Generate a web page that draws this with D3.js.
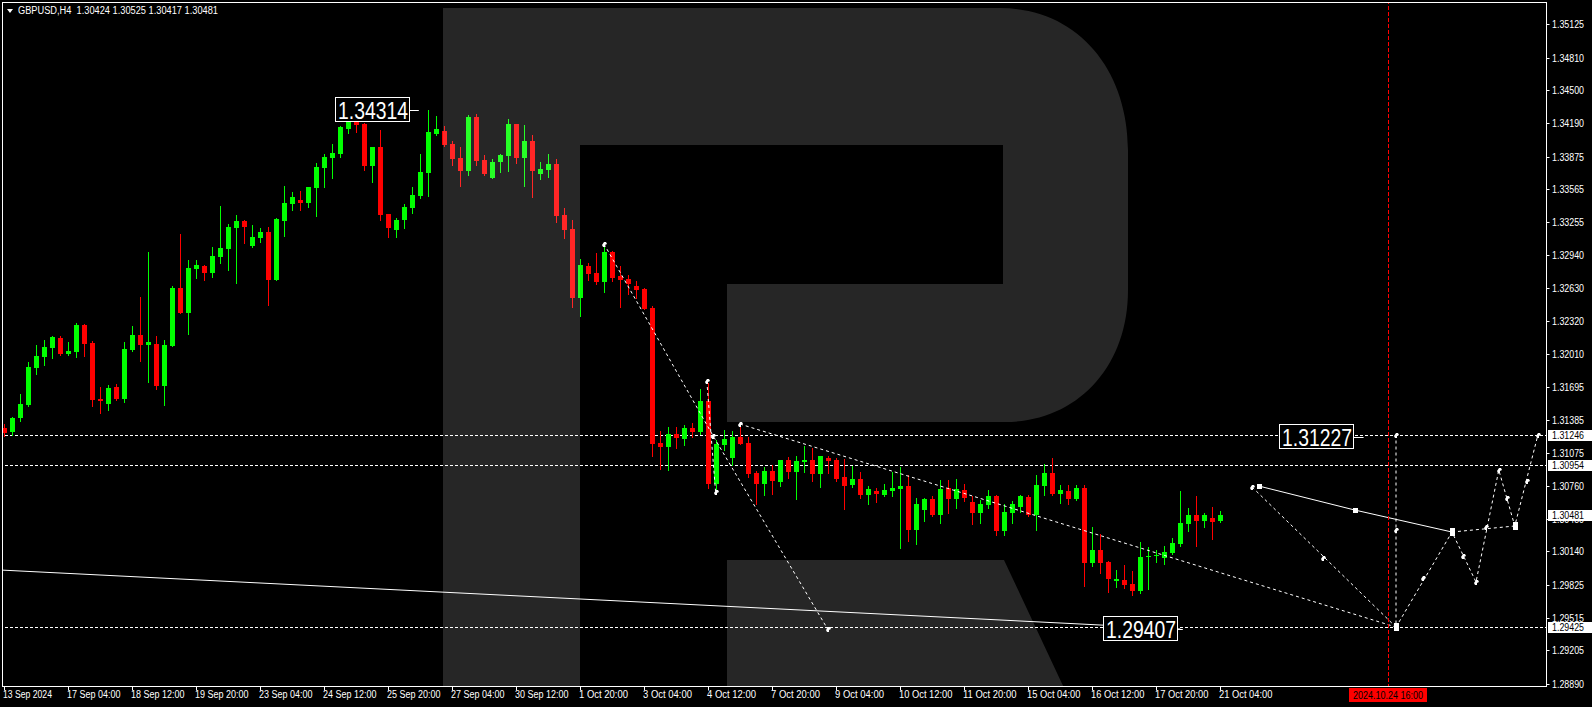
<!DOCTYPE html>
<html><head><meta charset="utf-8">
<script src="https://cdn.jsdelivr.net/npm/d3@7"></script>
<style>body{margin:0;background:#000;overflow:hidden}svg{display:block}</style>
</head><body><svg id="c" width="1592" height="707"></svg>
<script>
// ---------- DATA ----------
const opens = [1.31307,1.31269,1.31402,1.31525,1.31875,1.31979,1.32065,1.32158,1.32007,1.32026,
1.32282,1.32111,1.31581,1.31534,1.31695,1.31581,1.32045,1.32187,1.32093,1.32102,
1.31704,1.32083,1.32631,1.32395,1.32812,1.32840,1.32774,1.32925,1.33001,1.33199,
1.33265,1.33029,1.33105,1.33161,1.32708,1.33265,1.33426,1.33464,1.33436,1.33577,
1.33766,1.33861,1.33898,1.34135,1.34238,1.34182,1.33785,1.33965,1.33331,1.33180,
1.33275,1.33388,1.33501,1.33719,1.34088,1.34116,1.33993,1.33861,1.33738,1.34248,
1.33842,1.33672,1.33823,1.33880,1.34182,1.33861,1.34022,1.33710,1.33747,1.33804,
1.33322,1.33189,1.32537,1.32840,1.32774,1.32688,1.32972,1.32745,1.32717,1.32650,
1.32622,1.32442,1.31166,1.31128,1.31251,1.31203,1.31307,1.31269,1.31563,1.30778,
1.31147,1.31024,1.31222,1.31166,1.30882,1.30778,1.30901,1.30797,1.31005,1.30891,
1.30986,1.31005,1.30872,1.31024,1.31005,1.30844,1.30768,1.30825,1.30674,1.30712,
1.30674,1.30712,1.30731,1.30759,1.30343,1.30532,1.30636,1.30485,1.30740,1.30636,
1.30721,1.30608,1.30504,1.30580,1.30664,1.30334,1.30504,1.30561,1.30655,1.30485,
1.30759,1.30882,1.30683,1.30712,1.30636,1.30740,1.30031,1.30154,1.30040,1.29860,
1.29870,1.29832,1.29766,1.30088,1.30097,1.30078,1.30126,1.30211,1.30400,1.30485,
1.30428,1.30456,1.30424];
const highs = [1.31345,1.31411,1.31629,1.31932,1.32093,1.32140,1.32177,1.32177,1.32121,1.32301,
1.32292,1.32130,1.31695,1.31714,1.31723,1.32121,1.32273,1.32547,1.32972,1.32177,
1.32140,1.32650,1.33142,1.32897,1.32897,1.32850,1.33020,1.33407,1.33237,1.33322,
1.33275,1.33227,1.33199,1.33208,1.33294,1.33595,1.33539,1.33548,1.33586,1.33814,
1.33898,1.33993,1.34163,1.34285,1.34276,1.34191,1.33965,1.34125,1.33331,1.33294,
1.33426,1.33586,1.33898,1.34314,1.34257,1.34163,1.34022,1.33965,1.34267,1.34276,
1.33889,1.33851,1.33898,1.34229,1.34182,1.34172,1.34078,1.33823,1.33898,1.33851,
1.33388,1.33275,1.32906,1.32869,1.32963,1.33048,1.32982,1.32840,1.32755,1.32698,
1.32631,1.32461,1.31279,1.31317,1.31317,1.31336,1.31355,1.31676,1.31733,1.31194,
1.31288,1.31279,1.31326,1.31222,1.30901,1.30939,1.30958,1.31005,1.31033,1.31043,
1.31137,1.31118,1.31043,1.31043,1.31024,1.31014,1.30948,1.30891,1.30759,1.30740,
1.30778,1.30891,1.30939,1.30863,1.30645,1.30645,1.30664,1.30816,1.30816,1.30825,
1.30778,1.30664,1.30627,1.30721,1.30674,1.30589,1.30617,1.30674,1.30674,1.30863,
1.30967,1.31024,1.30768,1.30768,1.30768,1.30768,1.30371,1.30305,1.30050,1.29965,
1.30012,1.29955,1.30230,1.30182,1.30154,1.30192,1.30267,1.30712,1.30551,1.30664,
1.30504,1.30561,1.30525];
const lows = [1.31231,1.31241,1.31374,1.31515,1.31818,1.31904,1.31970,1.31998,1.31998,1.31979,
1.31988,1.31515,1.31449,1.31477,1.31572,1.31553,1.32036,1.31942,1.31742,1.31676,
1.31525,1.32083,1.32395,1.32196,1.32727,1.32708,1.32736,1.32869,1.32802,1.32678,
1.33058,1.33020,1.33067,1.32471,1.32708,1.33124,1.33369,1.33369,1.33398,1.33313,
1.33586,1.33672,1.33870,1.34097,1.34107,1.33747,1.33634,1.33275,1.33114,1.33114,
1.33199,1.33341,1.33483,1.33501,1.34078,1.33974,1.33795,1.33595,1.33700,1.33795,
1.33700,1.33672,1.33728,1.33738,1.33814,1.33595,1.33492,1.33662,1.33681,1.33256,
1.33105,1.32452,1.32367,1.32708,1.32669,1.32594,1.32698,1.32452,1.32575,1.32537,
1.32433,1.31043,1.30920,1.30910,1.31118,1.31147,1.31222,1.31251,1.30740,1.30721,
1.31099,1.30958,1.31156,1.30844,1.30589,1.30674,1.30683,1.30759,1.30835,1.30636,
1.30891,1.30806,1.30750,1.30882,1.30806,1.30541,1.30750,1.30645,1.30589,1.30608,
1.30664,1.30664,1.30173,1.30239,1.30211,1.30428,1.30475,1.30409,1.30504,1.30551,
1.30617,1.30400,1.30409,1.30551,1.30296,1.30296,1.30409,1.30513,1.30475,1.30343,
1.30674,1.30674,1.30598,1.30589,1.30627,1.29813,1.30003,1.29936,1.29756,1.29804,
1.29794,1.29728,1.29747,1.29785,1.30040,1.30021,1.30116,1.30192,1.30334,1.30192,
1.30371,1.30258,1.30417];
const closes = [1.31260,1.31402,1.31534,1.31885,1.31988,1.32074,1.32168,1.32007,1.32036,1.32282,
1.32102,1.31572,1.31563,1.31686,1.31581,1.32055,1.32187,1.32093,1.32121,1.31704,
1.32093,1.32631,1.32395,1.32821,1.32850,1.32774,1.32934,1.33010,1.33208,1.33265,
1.33208,1.33114,1.33161,1.32708,1.33284,1.33436,1.33492,1.33436,1.33586,1.33776,
1.33870,1.33908,1.34154,1.34238,1.34172,1.33785,1.33965,1.33322,1.33199,1.33275,
1.33398,1.33511,1.33728,1.34107,1.34135,1.33984,1.33851,1.33738,1.34248,1.33832,
1.33710,1.33823,1.33889,1.34182,1.33861,1.34022,1.33738,1.33757,1.33804,1.33313,
1.33180,1.32537,1.32850,1.32764,1.32688,1.32972,1.32727,1.32708,1.32669,1.32612,
1.32433,1.31156,1.31128,1.31251,1.31213,1.31307,1.31269,1.31563,1.30778,1.31156,
1.31203,1.31222,1.31156,1.30872,1.30778,1.30901,1.30806,1.31005,1.30891,1.30996,
1.31005,1.30872,1.31043,1.30996,1.30825,1.30759,1.30825,1.30674,1.30731,1.30683,
1.30721,1.30740,1.30759,1.30343,1.30589,1.30636,1.30485,1.30731,1.30636,1.30731,
1.30645,1.30504,1.30589,1.30664,1.30334,1.30513,1.30589,1.30664,1.30485,1.30768,
1.30882,1.30683,1.30721,1.30636,1.30740,1.30031,1.30154,1.30031,1.29879,1.29879,
1.29823,1.29766,1.30088,1.30097,1.30107,1.30135,1.30220,1.30409,1.30485,1.30428,
1.30485,1.30418,1.30481];

const timeLabels = ["13 Sep 2024","17 Sep 04:00","18 Sep 12:00","19 Sep 20:00","23 Sep 04:00","24 Sep 12:00",
"25 Sep 20:00","27 Sep 04:00","30 Sep 12:00","1 Oct 20:00","3 Oct 04:00","4 Oct 12:00","7 Oct 20:00",
"9 Oct 04:00","10 Oct 12:00","11 Oct 20:00","15 Oct 04:00","16 Oct 12:00","17 Oct 20:00","21 Oct 04:00"];
const barsPerLabel = 8;
const priceTicks = [1.35125,1.34810,1.34500,1.34190,1.33875,1.33565,1.33255,1.32940,1.32630,1.32320,
1.32010,1.31695,1.31385,1.31075,1.30760,1.30450,1.30140,1.29825,1.29515,1.29205,1.28890];
const levelLines = [1.31246, 1.30954, 1.29425];
const axisTags = [1.31246, 1.30954, 1.30481, 1.29425];
const title = "GBPUSD,H4  1.30424 1.30525 1.30417 1.30481";
const markerBar = 173, markerText = "2024.10.24 16:00";

// forecast drawings: [barIndex, price]
const solidLines = [
  [[-0.5, 1.29965], [147.1, 1.29407]],
  [[156.9, 1.30759], [168.9, 1.30532], [181.05, 1.30324]]
];
const dashedLines = [
  [[75.05, 1.33048], [88.7, 1.31232], [103.0, 1.29407]],
  [[87.9, 1.31752], [89.0, 1.30702]],
  [[92.05, 1.31345], [174.05, 1.29425]],
  [[156.05, 1.30750], [174.05, 1.29425]],
  [[174.05, 1.31246], [174.05, 1.29425]],
  [[174.05, 1.29425], [181.05, 1.30324], [184.05, 1.29851], [186.9, 1.30910], [188.9, 1.30381], [191.8, 1.31246]],
  [[181.05, 1.30324], [188.9, 1.30381]]
];
const markers = [[75.05,1.33048],[87.9,1.31752],[88.7,1.31232],[89.05,1.30702],[92.05,1.31345],[103.0,1.29407],
  [156.05,1.30750],[164.9,1.30078],[174.05,1.31246],[174.05,1.30343],[177.4,1.29889],[182.4,1.30097],
  [184.05,1.29851],[185.3,1.30371],[186.9,1.30910],[187.9,1.30645],[188.9,1.30381],[190.4,1.30806],[191.8,1.31246]];
const bigMarkers = [[174.05,1.29425],[181.05,1.30324],[188.9,1.30381]];
const squareMarkers = [[156.9,1.30759],[168.9,1.30532]];
const boxLabels = [
  {text:"1.34314", bar:41.4, price:1.34314, lineTo:51.9},
  {text:"1.31227", bar:159.4, price:1.31227, lineTo:170.0},
  {text:"1.29407", bar:137.4, price:1.29407, lineTo:147.4}
];

// ---------- CHART ----------
const W = 1592, H = 707;
const L = 2.5, T = 2.5, R = 1546.5, B = 686.5;
const svg = d3.select("#c");
svg.append("rect").attr("width", W).attr("height", H).attr("fill", "#000");

const x = d3.scaleLinear().domain([0, 152]).range([3.6, 1219.6]);
const y = d3.scaleLinear().domain([1.28868, 1.35355]).range([686, 0]);

svg.append("defs").append("clipPath").attr("id", "plot")
  .append("rect").attr("x", L).attr("y", T).attr("width", R - L).attr("height", B - T);
const g = svg.append("g").attr("clip-path", "url(#plot)");

// level lines
g.selectAll("line.lvl").data(levelLines).join("line")
  .attr("x1", 0).attr("x2", R).attr("y1", d => Math.round(y(d)) + 0.5).attr("y2", d => Math.round(y(d)) + 0.5)
  .attr("stroke", "#fff").attr("stroke-dasharray", "3,2");

// candles
const idx = d3.range(opens.length);
const cx = i => Math.round(x(i));
const up = i => closes[i] >= opens[i];
const col = i => up(i) ? "#00ff00" : "#ff0000";
g.selectAll("line.wick").data(idx).join("line")
  .attr("x1", i => cx(i) + 0.5).attr("x2", i => cx(i) + 0.5)
  .attr("y1", i => Math.round(y(highs[i]))).attr("y2", i => Math.round(y(lows[i])) + 1)
  .attr("stroke", col).attr("stroke-width", 1);
g.selectAll("rect.body").data(idx).join("rect")
  .attr("x", i => cx(i) - 2).attr("width", 5)
  .attr("y", i => Math.round(y(Math.max(opens[i], closes[i]))))
  .attr("height", i => Math.max(1, Math.round(y(Math.min(opens[i], closes[i]))) - Math.round(y(Math.max(opens[i], closes[i])))))
  .attr("fill", col);

// watermark logo (translucent overlay)
g.append("path")
  .attr("d", "M443,8 H1000 C1078,8 1128,70 1128,150 V290 C1128,368 1076,422 1005,422 H727 V284 H1003 V145 H580 V690 H443 Z M727,560 H1004 L1065,690 H727 Z")
  .attr("fill", "#fff").attr("fill-opacity", 0.149);

// forecast lines
const lineGen = d3.line().x(d => x(d[0])).y(d => y(d[1]));
g.selectAll("path.solid").data(solidLines).join("path")
  .attr("d", lineGen).attr("fill", "none").attr("stroke", "#fff").attr("stroke-width", 1);
g.selectAll("path.dash").data(dashedLines).join("path")
  .attr("d", lineGen).attr("fill", "none").attr("stroke", "#fff").attr("stroke-width", 1).attr("stroke-dasharray", "3,3");

// red time marker
g.append("line").attr("x1", Math.round(x(markerBar)) + 0.5).attr("x2", Math.round(x(markerBar)) + 0.5)
  .attr("y1", 0).attr("y2", B).attr("stroke", "#ff0000").attr("stroke-dasharray", "4,2");

// markers
g.selectAll("path.mk").data(markers).join("path")
  .attr("transform", d => `translate(${Math.round(x(d[0]))},${Math.round(y(d[1]))})`)
  .attr("d", "M-2,1 L0,-2 L2,-2 L3,0 L1,1 L1,3 L-1,3 Z").attr("fill", "#fff");
g.selectAll("rect.bmk").data(bigMarkers).join("rect")
  .attr("x", d => Math.round(x(d[0])) - 2).attr("y", d => Math.round(y(d[1])) - 4)
  .attr("width", 5).attr("height", 8).attr("fill", "#fff");
g.selectAll("rect.smk").data(squareMarkers).join("rect")
  .attr("x", d => Math.round(x(d[0])) - 2).attr("y", d => Math.round(y(d[1])) - 2)
  .attr("width", 5).attr("height", 5).attr("fill", "#fff");

// boxed labels
boxLabels.forEach(b => {
  const bx = Math.round(x(b.bar)), by = Math.round(y(b.price));
  g.append("line").attr("x1", bx + 75).attr("x2", x(b.lineTo)).attr("y1", by + 0.5).attr("y2", by + 0.5)
    .attr("stroke", "#fff");
  g.append("rect").attr("x", bx + 0.5).attr("y", by - 12.5).attr("width", 74).attr("height", 24)
    .attr("fill", "#000").attr("stroke", "#fff");
  g.append("text").attr("x", bx + 3).attr("y", by + 9).text(b.text)
    .attr("fill", "#fff").attr("font-family", "Liberation Sans, Arial, sans-serif")
    .attr("font-size", 24).attr("textLength", 70).attr("lengthAdjust", "spacingAndGlyphs");
});

// frame
svg.append("rect").attr("x", L).attr("y", T).attr("width", R - L).attr("height", B - T)
  .attr("fill", "none").attr("stroke", "#fff").attr("stroke-width", 1);

// price axis
const fnt = "Liberation Sans, Arial, sans-serif";
const pt = svg.append("g");
pt.selectAll("line").data(priceTicks).join("line")
  .attr("x1", R).attr("x2", R + 3).attr("y1", d => Math.round(y(d)) + 0.5).attr("y2", d => Math.round(y(d)) + 0.5)
  .attr("stroke", "#fff");
pt.selectAll("text").data(priceTicks).join("text")
  .attr("x", 1552).attr("y", d => Math.round(y(d)) + 4).text(d => d.toFixed(5))
  .attr("fill", "#fff").attr("font-family", fnt).attr("font-size", 10)
  .attr("textLength", 32).attr("lengthAdjust", "spacingAndGlyphs");
const tg = svg.append("g");
tg.selectAll("rect").data(axisTags).join("rect")
  .attr("x", 1548).attr("y", d => Math.round(y(d)) - 5).attr("width", 44).attr("height", 11).attr("fill", "#fff");
tg.selectAll("text").data(axisTags).join("text")
  .attr("x", 1552).attr("y", d => Math.round(y(d)) + 4).text(d => d.toFixed(5))
  .attr("fill", "#000").attr("font-family", fnt).attr("font-size", 10)
  .attr("textLength", 32).attr("lengthAdjust", "spacingAndGlyphs");

// time axis
const xt = svg.append("g");
xt.selectAll("line").data(timeLabels).join("line")
  .attr("x1", (d, i) => Math.round(x(i * barsPerLabel)) + 0.5).attr("x2", (d, i) => Math.round(x(i * barsPerLabel)) + 0.5)
  .attr("y1", B).attr("y2", B + 4).attr("stroke", "#fff");
xt.selectAll("text").data(timeLabels).join("text")
  .attr("x", (d, i) => Math.round(x(i * barsPerLabel)) - 1).attr("y", 698).text(d => d)
  .attr("fill", "#fff").attr("font-family", fnt).attr("font-size", 10)
  .attr("textLength", d => d.length * 4.45).attr("lengthAdjust", "spacingAndGlyphs");
const mxp = Math.round(x(markerBar));
svg.append("rect").attr("x", mxp - 39).attr("y", 688).attr("width", 78).attr("height", 14).attr("fill", "#ff0000");
svg.append("text").attr("x", mxp).attr("y", 699).attr("text-anchor", "middle").text(markerText)
  .attr("fill", "#000").attr("font-family", fnt).attr("font-size", 10)
  .attr("textLength", 70).attr("lengthAdjust", "spacingAndGlyphs");

// title
svg.append("path").attr("d", "M7,9 L13,9 L10,13 Z").attr("fill", "#fff");
svg.append("text").attr("x", 18).attr("y", 14).text(title).attr("xml:space", "preserve")
  .style("white-space", "pre")
  .attr("fill", "#fff").attr("font-family", fnt).attr("font-size", 10)
  .attr("textLength", 200).attr("lengthAdjust", "spacingAndGlyphs");
</script></body></html>
